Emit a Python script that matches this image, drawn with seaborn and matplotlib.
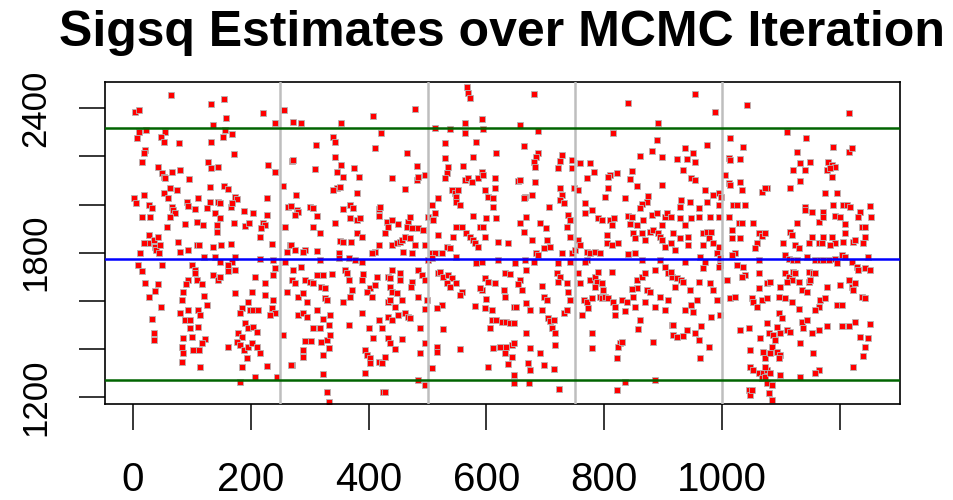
import matplotlib
matplotlib.use("Agg")
import matplotlib.pyplot as plt
import seaborn as sns
import pandas as pd

# (iteration, sigsq), one list per stretch of the x axis
seg1 = [(3, 2386), (11, 2393), (64, 2455),
        (11, 2303), (23, 2310), (54, 2300), (48, 2282), (52, 2261), (7, 2275), (78, 2257),
        (20, 2227), (18, 2216), (15, 2178),
        (43, 2157), (49, 2130), (52, 2116), (55, 2109), (67, 2137), (80, 2143), (96, 2107),
        (1, 2026), (6, 2005), (18, 2040), (28, 2000), (32, 1984), (15, 1949), (29, 1947), (52, 2046),
        (63, 2067), (74, 2060), (60, 2026), (66, 1991), (68, 1977), (71, 1963), (63, 1949), (92, 2012),
        (105, 1980), (94, 1994), (88, 1921), (108, 1928),
        (28, 1873), (26, 1838), (35, 1852), (37, 1825), (40, 1811), (46, 1832), (43, 1866), (19, 1841),
        (45, 1797), (57, 1908), (77, 1845), (80, 1804), (94, 1811), (12, 1800), (108, 1832),
        (9, 1748), (16, 1725), (20, 1675), (43, 1669), (37, 1641), (28, 1616), (48, 1575), (33, 1522),
        (36, 1467), (36, 1436), (50, 1748),
        (101, 1748), (105, 1727), (94, 1686), (90, 1669), (85, 1637), (83, 1603), (80, 1550), (88, 1519),
        (83, 1408), (85, 1383), (84, 1346), (94, 1561), (97, 1485), (97, 1519), (102, 1395), (100, 1450),
        (85, 1443)]

seg2 = [(132, 2418), (155, 2439), (158, 2358), (221, 2379), (241, 2338), (257, 2393),
        (136, 2331), (156, 2310), (168, 2293), (153, 2279), (132, 2259),
        (172, 2210), (128, 2178), (132, 2150), (145, 2157), (230, 2164), (241, 2137), (270, 2182),
        (131, 2071), (155, 2077), (162, 2063), (173, 2033), (176, 2021), (167, 1991), (169, 2008),
        (111, 2026), (131, 2012), (144, 2012), (148, 2005), (125, 1984), (227, 2026), (254, 2077),
        (108, 1928), (119, 1915), (139, 1963), (148, 1942), (142, 1915), (142, 1887), (172, 1924),
        (190, 1910), (189, 1974), (204, 1963), (197, 1922), (221, 1922), (224, 1915), (218, 1901),
        (216, 1866), (227, 1956), (263, 1991), (258, 1908),
        (112, 1831), (136, 1824), (149, 1831), (166, 1834), (236, 1836), (121, 1783), (139, 1783),
        (173, 1783), (267, 1831), (261, 1804),
        (148, 1762), (168, 1762), (216, 1772), (238, 1769), (258, 1762),
        (105, 1714), (108, 1686), (117, 1669), (162, 1748), (161, 1725), (173, 1727), (136, 1707),
        (145, 1686), (148, 1700), (207, 1697), (241, 1734), (238, 1707), (224, 1672), (270, 1686),
        (261, 1637), (173, 1630), (202, 1637), (121, 1619), (125, 1582), (196, 1596), (199, 1561),
        (204, 1561), (213, 1561), (185, 1571), (182, 1547), (224, 1623), (238, 1603), (236, 1568),
        (241, 1547), (233, 1540), (111, 1561), (114, 1540),
        (111, 1492), (122, 1439), (117, 1422), (112, 1395), (162, 1408), (178, 1464), (185, 1450),
        (176, 1429), (182, 1415), (190, 1505), (196, 1485), (204, 1492), (210, 1471), (189, 1395),
        (196, 1408), (202, 1422), (210, 1408), (216, 1381), (193, 1360), (185, 1325), (207, 1284),
        (227, 1328), (244, 1284), (114, 1325), (182, 1263), (270, 1332), (255, 1457)]

seg3 = [(272, 2345), (285, 2340), (354, 2340), (408, 2368), (421, 2299),
        (311, 2248), (340, 2282), (343, 2261), (411, 2234), (271, 2185), (309, 2146), (343, 2196),
        (354, 2164), (356, 2116), (346, 2137), (375, 2150), (383, 2116),
        (277, 2039), (346, 2067), (351, 2071), (340, 2060), (380, 2046),
        (269, 1994), (278, 1977), (281, 1970), (275, 1956), (301, 1991), (306, 1984), (312, 1952),
        (306, 1908), (318, 1880), (357, 1980), (368, 1998), (374, 1984), (368, 1942), (380, 1935),
        (385, 1942), (343, 1924), (417, 1980), (419, 1991), (418, 1952), (380, 1880), (388, 1866),
        (431, 1928),
        (269, 1831), (275, 1811), (292, 1811), (289, 1804), (312, 1806), (351, 1848), (357, 1845),
        (370, 1845), (418, 1831), (411, 1804), (405, 1797), (349, 1797),
        (318, 1769), (349, 1776), (366, 1776), (377, 1769), (388, 1762),
        (272, 1727), (286, 1738), (275, 1672), (292, 1686), (301, 1679), (306, 1672), (312, 1707),
        (323, 1707), (320, 1658), (326, 1651), (338, 1711), (360, 1727), (363, 1714), (366, 1686),
        (388, 1686), (390, 1711), (402, 1651), (397, 1637), (405, 1616), (411, 1665), (415, 1700),
        (281, 1616), (289, 1630), (295, 1596), (326, 1609), (329, 1602), (357, 1596), (371, 1644),
        (368, 1616),
        (281, 1540), (289, 1547), (295, 1533), (306, 1485), (318, 1485), (323, 1522), (334, 1540),
        (333, 1499), (312, 1561), (388, 1550), (367, 1499), (400, 1485), (408, 1443), (417, 1519),
        (422, 1485), (292, 1433), (303, 1433), (320, 1429), (329, 1436), (334, 1457), (323, 1374),
        (332, 1401), (289, 1395), (289, 1364), (269, 1332), (394, 1395), (397, 1374), (402, 1360),
        (402, 1339), (417, 1346), (422, 1342), (323, 1295), (394, 1297), (329, 1221), (332, 1180),
        (425, 1221)]

seg4 = [(567, 2490), (569, 2462), (572, 2442), (479, 2396), (564, 2338), (564, 2296), (513, 2317),
        (538, 2313), (583, 2261), (578, 2196), (530, 2257), (465, 2213), (482, 2160), (530, 2192),
        (535, 2157), (533, 2130), (530, 2109), (561, 2160), (564, 2102), (568, 2109), (575, 2095),
        (586, 2109), (439, 2109), (482, 2102), (484, 2113), (496, 2123), (462, 2063),
        (541, 2060), (547, 2046), (549, 2033), (552, 2060), (549, 2012), (555, 1998), (518, 2026),
        (507, 1998), (501, 1949), (513, 1963), (510, 1935),
        (439, 1935), (450, 1921), (467, 1928), (470, 1949), (465, 1908), (473, 1901), (428, 1880),
        (433, 1908), (484, 1901), (493, 1894), (439, 1831), (448, 1838), (453, 1845), (456, 1852),
        (462, 1866), (470, 1859), (496, 1831), (479, 1831), (459, 1804), (473, 1797), (549, 1908),
        (558, 1908), (566, 1880), (572, 1866), (578, 1852), (581, 1838), (586, 1824), (578, 1952),
        (589, 1908), (518, 1873), (544, 1866), (533, 1824), (538, 1818), (507, 1800), (513, 1797),
        (524, 1797),
        (501, 1769), (507, 1776), (549, 1783), (583, 1758), (592, 1762),
        (439, 1727), (433, 1700), (436, 1693), (453, 1714), (453, 1686), (484, 1727), (490, 1707),
        (495, 1686), (518, 1714), (521, 1720), (527, 1700), (535, 1707), (541, 1693), (533, 1672),
        (538, 1658), (558, 1637), (555, 1623), (549, 1672), (473, 1679), (472, 1658), (436, 1658),
        (439, 1637), (448, 1630), (484, 1616), (499, 1603), (524, 1582), (516, 1568), (581, 1578),
        (592, 1644), (433, 1596), (436, 1603), (456, 1603), (445, 1575), (450, 1540), (462, 1547),
        (467, 1533), (470, 1526), (433, 1533), (439, 1519), (487, 1487), (496, 1564), (527, 1481),
        (433, 1443), (436, 1422), (428, 1367), (456, 1439), (445, 1397), (496, 1422), (487, 1381),
        (516, 1408), (516, 1388), (555, 1397), (507, 1318), (484, 1270), (428, 1221), (496, 1249)]

seg5 = [(680, 2460), (592, 2354), (595, 2313), (657, 2331), (688, 2307), (663, 2243), (616, 2213),
        (688, 2213), (685, 2199), (680, 2178), (682, 2155), (728, 2206), (725, 2182), (745, 2185),
        (745, 2150), (722, 2150), (592, 2137), (595, 2123), (614, 2109), (614, 2067), (654, 2098),
        (657, 2102), (682, 2095), (598, 2060), (603, 2033), (612, 2026), (612, 1988), (665, 2033),
        (663, 2026), (677, 2040), (725, 2067), (728, 2040), (725, 2019), (731, 2005), (707, 1991),
        (748, 2067),
        (599, 1942), (595, 1908), (617, 1942), (657, 1924), (663, 1887), (668, 1949), (691, 1924),
        (701, 1901), (739, 1956), (742, 1935), (736, 1908), (742, 1866), (598, 1866), (620, 1845),
        (637, 1841), (677, 1852), (697, 1818), (702, 1852), (708, 1824), (685, 1797), (688, 1790),
        (728, 1797), (745, 1797), (750, 1811),
        (620, 1769), (649, 1755), (665, 1769), (680, 1762), (722, 1755), (742, 1762),
        (598, 1693), (603, 1679), (614, 1672), (589, 1651), (632, 1714), (640, 1709), (668, 1727),
        (657, 1686), (654, 1669), (660, 1644), (629, 1644), (632, 1616), (600, 1605), (598, 1568),
        (609, 1561), (646, 1575), (651, 1575), (668, 1589), (674, 1561), (694, 1661), (697, 1616),
        (702, 1603), (719, 1714), (725, 1700), (722, 1679), (736, 1672), (739, 1637), (742, 1603),
        (694, 1561), (705, 1526), (708, 1516), (714, 1519), (711, 1485), (716, 1464), (731, 1550),
        (736, 1561), (609, 1519), (617, 1519), (626, 1512), (634, 1512), (640, 1508), (646, 1505),
        (606, 1485), (668, 1467), (612, 1401), (623, 1408), (634, 1408), (643, 1415), (646, 1422),
        (632, 1381), (643, 1367), (674, 1401), (691, 1383), (716, 1415), (603, 1322), (637, 1335),
        (671, 1339), (674, 1311), (697, 1332), (714, 1314), (646, 1290), (646, 1256), (673, 1256),
        (724, 1231)]

seg6 = [(841, 2421), (892, 2338), (815, 2299), (889, 2268), (881, 2222), (861, 2202), (898, 2196),
        (759, 2171), (776, 2171), (782, 2137), (770, 2109), (810, 2123), (807, 2116), (821, 2130),
        (847, 2141), (844, 2105), (855, 2077), (898, 2081), (756, 2060), (807, 2067), (801, 2033),
        (836, 2026), (875, 2035), (872, 2012), (864, 2002), (861, 1984), (767, 2008), (767, 1963),
        (779, 1977), (790, 1942), (796, 1935), (810, 1935), (813, 1915), (817, 1942), (841, 1952),
        (847, 1949), (844, 1921), (855, 1915), (866, 1935), (881, 1956), (889, 1963), (903, 1949),
        (906, 1963), (898, 1915), (756, 1852), (759, 1831), (804, 1873), (804, 1841), (813, 1831),
        (824, 1838), (849, 1880), (852, 1859), (864, 1880), (869, 1852), (878, 1887), (883, 1894),
        (892, 1880), (895, 1866), (898, 1852), (852, 1800), (903, 1824),
        (770, 1804), (776, 1797), (784, 1804), (793, 1797), (770, 1769), (767, 1762), (841, 1794),
        (864, 1769), (895, 1769),
        (756, 1716), (759, 1675), (776, 1686), (784, 1700), (790, 1720), (787, 1679), (784, 1658),
        (796, 1672), (798, 1644), (793, 1616), (813, 1720), (765, 1603), (770, 1596), (773, 1568),
        (762, 1540), (779, 1610), (796, 1610), (801, 1616), (807, 1610), (815, 1596), (818, 1575),
        (830, 1603), (838, 1596), (835, 1558), (849, 1616), (855, 1651), (847, 1647), (855, 1686),
        (864, 1700), (869, 1714), (886, 1727), (903, 1741), (909, 1714), (915, 1700), (872, 1644),
        (869, 1596), (878, 1637), (886, 1575), (895, 1616), (903, 1561), (909, 1603), (818, 1540),
        (852, 1575), (861, 1519), (858, 1481), (779, 1464), (827, 1422), (824, 1408), (821, 1360),
        (830, 1429), (779, 1401), (883, 1429), (886, 1270), (835, 1263), (821, 1228), (915, 1498),
        (917, 1457)]

seg7 = [(954, 2460), (988, 2386), (1042, 2414), (1014, 2275), (1035, 2240), (974, 2248), (937, 2234),
        (951, 2216), (923, 2188), (940, 2188), (954, 2178), (934, 2143), (948, 2109), (954, 2102),
        (1011, 2192), (1014, 2185), (1030, 2188), (1005, 2123), (1011, 2088), (1014, 2081),
        (1030, 2095), (1033, 2060), (1067, 2053), (1076, 2067), (971, 2060), (985, 2040), (994, 2046),
        (931, 2019), (929, 1991), (946, 2012), (960, 1984), (974, 2012), (994, 1998), (999, 2033),
        (1019, 1998), (1025, 1998), (1039, 1998), (914, 1949), (929, 1942), (937, 1915), (948, 1942),
        (960, 1949), (980, 1949), (994, 1949), (1011, 1949), (1028, 1922), (1033, 1922), (1053, 1922),
        (917, 1880), (929, 1859), (943, 1866), (968, 1880), (974, 1887), (982, 1887), (977, 1859),
        (914, 1838), (920, 1811), (943, 1831), (968, 1831), (985, 1838), (994, 1824), (1016, 1894),
        (1016, 1859), (1030, 1859), (1062, 1880), (1067, 1869), (1059, 1838), (1056, 1818),
        (1022, 1797), (991, 1797),
        (937, 1762), (963, 1783), (971, 1762), (997, 1776), (1016, 1790), (1062, 1769),
        (914, 1720), (923, 1693), (931, 1686), (934, 1679), (920, 1658), (946, 1644), (960, 1679),
        (968, 1734), (980, 1672), (985, 1644), (997, 1748), (994, 1741), (1008, 1686), (1014, 1610),
        (1022, 1616), (1025, 1748), (1036, 1741), (1039, 1707), (1033, 1700), (1063, 1714),
        (1062, 1651), (1076, 1672), (957, 1603), (948, 1582), (937, 1561), (951, 1554), (991, 1603),
        (982, 1533), (997, 1540), (1050, 1610), (1053, 1596), (1059, 1575), (1067, 1603), (917, 1499),
        (923, 1450), (934, 1453), (940, 1478), (954, 1464), (960, 1436), (965, 1495), (977, 1408),
        (963, 1360), (1030, 1478), (1045, 1485), (1064, 1443), (1047, 1395), (1070, 1388),
        (1073, 1360), (1047, 1325), (1053, 1311), (1062, 1297), (1070, 1297), (1076, 1311),
        (1045, 1228), (1047, 1207), (1050, 1228), (1067, 1277), (1073, 1284)]

seg8 = [(1215, 2379), (1110, 2303), (1142, 2275), (1127, 2220), (1189, 2241), (1215, 2220),
        (1221, 2234), (1132, 2171), (1149, 2178), (1121, 2143), (1141, 2143), (1180, 2178),
        (1186, 2164), (1192, 2157), (1178, 2143), (1183, 2150), (1186, 2116), (1132, 2099),
        (1115, 2067), (1073, 2067), (1175, 2049), (1195, 2046), (1141, 1991), (1140, 1977),
        (1152, 1970), (1172, 1970), (1189, 1998), (1192, 1952), (1200, 1949), (1206, 1998),
        (1212, 1998), (1217, 1988), (1234, 1970), (1231, 1946), (1251, 1994), (1253, 1946),
        (1164, 1928), (1172, 1949), (1127, 1922), (1208, 1919), (1237, 1908), (1243, 1908),
        (1115, 1887), (1118, 1873), (1209, 1880), (1152, 1866), (1147, 1838), (1164, 1841),
        (1172, 1866), (1169, 1838), (1186, 1866), (1192, 1838), (1183, 1831), (1206, 1845),
        (1223, 1845), (1226, 1852), (1240, 1841), (1243, 1866), (1104, 1841), (1124, 1831),
        (1130, 1818), (1073, 1880),
        (1107, 1790), (1113, 1772), (1121, 1769), (1127, 1769), (1144, 1783), (1158, 1769),
        (1166, 1769), (1172, 1769), (1181, 1769), (1192, 1772), (1195, 1758), (1203, 1790),
        (1209, 1783), (1220, 1762), (1229, 1741), (1231, 1727), (1243, 1734), (1251, 1727),
        (1248, 1783),
        (1107, 1714), (1113, 1700), (1121, 1720), (1124, 1714), (1118, 1686), (1147, 1720),
        (1155, 1714), (1158, 1716), (1081, 1679), (1098, 1658), (1110, 1679), (1130, 1679),
        (1135, 1644), (1144, 1637), (1147, 1679), (1149, 1686), (1178, 1658), (1200, 1665),
        (1215, 1686), (1220, 1658), (1223, 1644), (1226, 1672), (1237, 1616), (1243, 1610),
        (1076, 1610), (1096, 1616), (1107, 1610), (1118, 1596), (1130, 1564), (1166, 1603),
        (1175, 1610), (1164, 1575), (1158, 1561), (1195, 1582), (1203, 1582), (1096, 1547),
        (1101, 1526), (1093, 1492), (1098, 1464), (1110, 1478), (1115, 1471), (1135, 1512),
        (1144, 1519), (1138, 1485), (1152, 1464), (1164, 1478), (1178, 1496), (1203, 1496),
        (1215, 1496), (1226, 1512), (1251, 1502), (1076, 1505), (1079, 1464), (1087, 1457),
        (1090, 1436), (1084, 1408), (1081, 1381), (1093, 1388), (1098, 1374), (1096, 1360),
        (1132, 1422), (1155, 1383), (1234, 1450), (1248, 1443), (1243, 1408), (1240, 1370),
        (1164, 1311), (1158, 1297), (1223, 1325), (1132, 1284), (1073, 1325), (1081, 1297),
        (1076, 1256), (1084, 1249), (1079, 1214), (1084, 1187), (1098, 1290)]

sigsq_mean = 1773
sigsq_lo = 1270
sigsq_hi = 2317
block_marks = [250, 500, 750, 1000]

x_ticks = [0, 200, 400, 600, 800, 1000, 1200]
x_labels = ["0", "200", "400", "600", "800", "1000", ""]
y_ticks = [1200, 1400, 1600, 1800, 2000, 2200, 2400]
y_labels = ["1200", "", "", "1800", "", "", "2400"]

segments = [seg1, seg2, seg3, seg4, seg5, seg6, seg7, seg8]
df = pd.DataFrame([p for s in segments for p in s], columns=["iteration", "sigsq"])

sns.set_style("white")
plt.rcParams["font.family"] = ["Liberation Sans", "DejaVu Sans"]

fig = plt.figure(figsize=(9.54, 5), dpi=100)
ax = fig.add_axes([0.110, 0.192, 0.8334, 0.6446])

sns.scatterplot(data=df, x="iteration", y="sigsq", ax=ax, marker="s", s=24,
                color="red", edgecolor="#b5b5b5", linewidth=0.6, zorder=2)

for b in block_marks:
    ax.axvline(b, color="#bebebe", lw=1.8, zorder=3)
ax.axhline(sigsq_mean, color="blue", lw=1.8, zorder=3)
ax.axhline(sigsq_lo, color="#006400", lw=1.8, zorder=3)
ax.axhline(sigsq_hi, color="#006400", lw=1.8, zorder=3)

ax.set_xlim(-47.5, 1302)
ax.set_ylim(1170, 2511)
ax.set_xticks(x_ticks, labels=x_labels)
ax.set_yticks(y_ticks, labels=y_labels)
ax.tick_params(axis="x", bottom=True, length=19, width=1.1, color="black",
               labelcolor="black", labelsize=29, pad=22)
ax.tick_params(axis="y", left=True, length=19, width=1.1, color="black",
               labelcolor="black", labelsize=25, pad=19, labelrotation=90)
for lab in ax.get_yticklabels():
    lab.set_va("center")
ax.set_xlabel("")
ax.set_ylabel("")
for sp in ax.spines.values():
    sp.set_visible(True)
    sp.set_color("black")
    sp.set_linewidth(1.2)

ax.set_title("Sigsq Estimates over MCMC Iteration", fontsize=36, fontweight="bold",
             color="black", pad=26)

fig.savefig("out.png", dpi=100)
